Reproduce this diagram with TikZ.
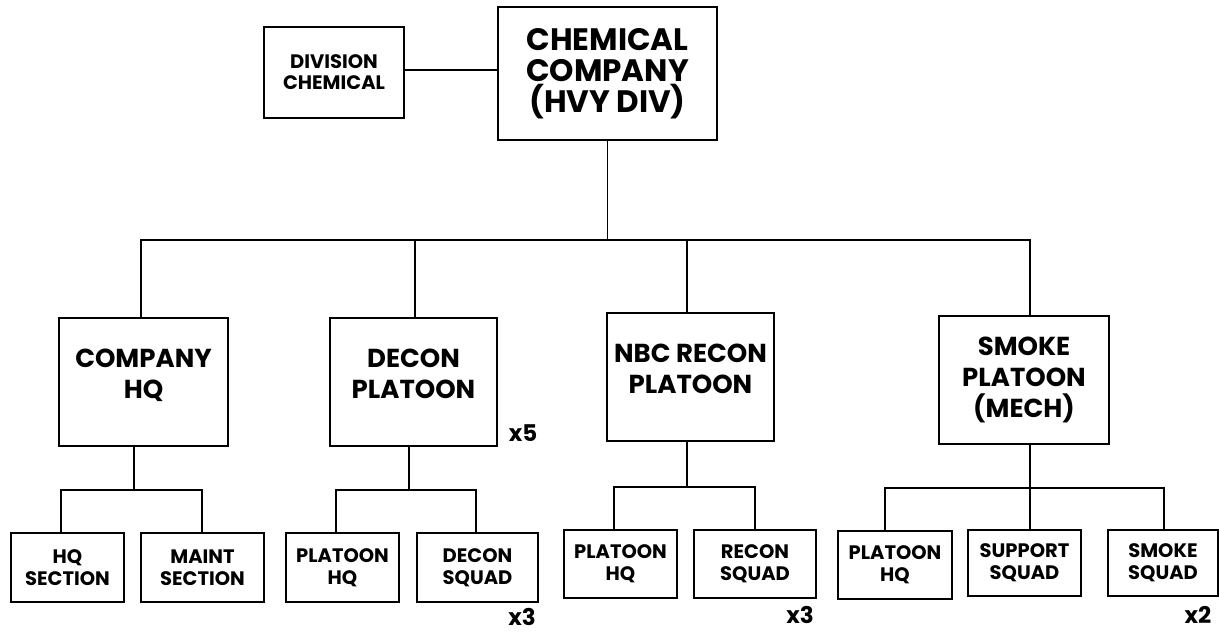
\documentclass[tikz,border=0pt]{standalone}
\usepackage{fontspec}
\setmainfont{Poppins}
\begin{document}
\begin{tikzpicture}[x=1pt,y=-1pt,
  box/.style={draw, line width=1.1pt, rectangle, align=center, inner sep=0pt, font=\bfseries},
  topbox/.style={box, font=\fontsize{31}{31}\selectfont\bfseries},
  midbox/.style={box, font=\fontsize{26}{31}\selectfont\bfseries},
  raised/.style={text depth=16pt},
  lowbox/.style={box, font=\fontsize{19.5}{22}\selectfont\bfseries},
  mult/.style={font=\fontsize{23}{25}\selectfont\bfseries, inner sep=0pt},
  link/.style={line width=1.1pt}]
\useasboundingbox (0,0) rectangle (1219,632);
% level 0
\node[box, font=\fontsize{19.5}{21}\selectfont\bfseries, minimum width=140pt, minimum height=91pt] (div) at (334,72.5) {DIVISION\\CHEMICAL};
\node[topbox, minimum width=219pt, minimum height=133pt] (chem) at (607.5,73.5) {CHEMICAL\\COMPANY\\(HVY DIV)};
% level 1
\node[midbox, raised, minimum width=169pt, minimum height=128pt] (chq) at (143.5,382) {COMPANY\\HQ};
\node[midbox, raised, minimum width=167pt, minimum height=128pt] (dpl) at (413.5,382) {DECON\\PLATOON};
\node[midbox, raised, minimum width=167pt, minimum height=128pt] (nbc) at (690.5,377) {NBC RECON\\PLATOON};
\node[midbox, minimum width=170pt, minimum height=128pt] (smk) at (1024,380) {SMOKE\\PLATOON\\(MECH)};
% level 2
\node[lowbox, minimum width=113pt, minimum height=69pt] (hqs) at (67.5,567.5) {HQ\\SECTION};
\node[lowbox, minimum width=123pt, minimum height=69pt] (mnt) at (202.5,567.5) {MAINT\\SECTION};
\node[lowbox, minimum width=113pt, minimum height=69pt] (dphq) at (342.5,567.5) {PLATOON\\HQ};
\node[lowbox, minimum width=121pt, minimum height=69pt] (dsq) at (477.5,567.5) {DECON\\SQUAD};
\node[lowbox, minimum width=113pt, minimum height=68pt] (nphq) at (620.5,564) {PLATOON\\HQ};
\node[lowbox, minimum width=122pt, minimum height=68pt] (rsq) at (755,564) {RECON\\SQUAD};
\node[lowbox, minimum width=114pt, minimum height=68pt] (sphq) at (895,565) {PLATOON\\HQ};
\node[lowbox, minimum width=113pt, minimum height=66pt] (ssq) at (1024.5,563) {SUPPORT\\SQUAD};
\node[lowbox, minimum width=110pt, minimum height=66pt] (smsq) at (1163,563) {SMOKE\\SQUAD};
% multipliers
\node[mult] (m1) at (523,433) {x5};
\node[mult] (m2) at (522,617) {x3};
\node[mult] (m3) at (800,615) {x3};
\node[mult] (m4) at (1198,615) {x2};
% bus coordinates
\coordinate (bus) at (607.5,240);
\coordinate (b1) at (141,240);
\coordinate (b2) at (415,240);
\coordinate (b3) at (687,240);
\coordinate (b4) at (1030,240);
\coordinate (s1) at (134,490);
\coordinate (s2) at (409,490);
\coordinate (s3) at (687,487);
\coordinate (s4) at (1030,488);
% connectors
\draw[link] (div.east |- 0,70) -- (chem.west |- 0,70);
\draw[link] (chem.south) -- (bus);
\draw[link] (b1 |- chq.north) -- (b1) -- (b4) -- (b4 |- smk.north);
\draw[link] (b2) -- (b2 |- dpl.north);
\draw[link] (b3) -- (b3 |- nbc.north);
% company hq
\draw[link] (s1 |- chq.south) -- (s1);
\draw[link] (61,0 |- hqs.north) -- (61,490) -- (202,490) -- (202,0 |- mnt.north);
% decon
\draw[link] (s2 |- dpl.south) -- (s2);
\draw[link] (336,0 |- dphq.north) -- (336,490) -- (476,490) -- (476,0 |- dsq.north);
% nbc
\draw[link] (s3 |- nbc.south) -- (s3);
\draw[link] (614,0 |- nphq.north) -- (614,487) -- (755,487) -- (rsq.north);
% smoke
\draw[link] (s4 |- smk.south) -- (s4 |- ssq.north);
\draw[link] (885,0 |- sphq.north) -- (885,488) -- (1164,488) -- (1164,0 |- smsq.north);
\end{tikzpicture}
\end{document}
